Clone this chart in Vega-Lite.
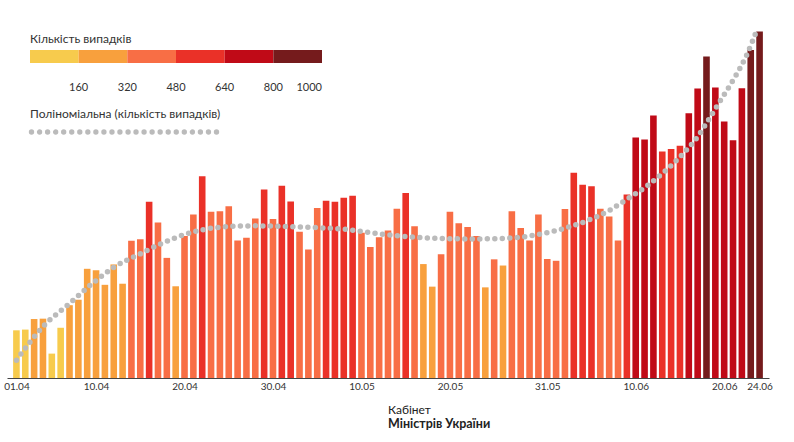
{
  "$schema": "https://vega.github.io/schema/vega-lite/v6.json",
  "autosize": {"type": "none"},
  "padding": {"left": 7, "top": 14, "right": 25, "bottom": 64},
  "width": 762,
  "height": 364,
  "background": "white",
  "config": {
    "view": {"stroke": null},
    "font": "Lato",
    "legend": {"titleFont": "Lato", "labelFont": "Lato", "titleFontWeight": "normal", "titleColor": "#333", "labelColor": "#333", "titleLimit": 400}
  },
  "title": {
    "text": "Кабінет",
    "subtitle": "Міністрів України",
    "orient": "bottom",
    "anchor": "middle",
    "align": "left",
    "offset": 14,
    "font": "Lato",
    "fontSize": 12,
    "fontWeight": "normal",
    "color": "#222",
    "subtitleFont": "Lato",
    "subtitleFontSize": 12.5,
    "subtitleFontWeight": "bold",
    "subtitleColor": "#222",
    "subtitlePadding": 1
  },
  "datasets": {
    "cases": [
      {"day": 1, "cases": 131}, {"day": 2, "cases": 133}, {"day": 3, "cases": 162}, {"day": 4, "cases": 163},
      {"day": 5, "cases": 67}, {"day": 6, "cases": 138}, {"day": 7, "cases": 200}, {"day": 8, "cases": 215},
      {"day": 9, "cases": 300}, {"day": 10, "cases": 296}, {"day": 11, "cases": 256}, {"day": 12, "cases": 312},
      {"day": 13, "cases": 259}, {"day": 14, "cases": 377}, {"day": 15, "cases": 381}, {"day": 16, "cases": 484},
      {"day": 17, "cases": 427}, {"day": 18, "cases": 330}, {"day": 19, "cases": 252}, {"day": 20, "cases": 390},
      {"day": 21, "cases": 449}, {"day": 22, "cases": 554}, {"day": 23, "cases": 457}, {"day": 24, "cases": 458},
      {"day": 25, "cases": 472}, {"day": 26, "cases": 378}, {"day": 27, "cases": 385}, {"day": 28, "cases": 438},
      {"day": 29, "cases": 518}, {"day": 30, "cases": 437}, {"day": 31, "cases": 528}, {"day": 32, "cases": 485},
      {"day": 33, "cases": 402}, {"day": 34, "cases": 353}, {"day": 35, "cases": 467}, {"day": 36, "cases": 487},
      {"day": 37, "cases": 484}, {"day": 38, "cases": 495}, {"day": 39, "cases": 501}, {"day": 40, "cases": 399},
      {"day": 41, "cases": 360}, {"day": 42, "cases": 387}, {"day": 43, "cases": 405}, {"day": 44, "cases": 465},
      {"day": 45, "cases": 508}, {"day": 46, "cases": 417}, {"day": 47, "cases": 313}, {"day": 48, "cases": 251},
      {"day": 49, "cases": 340}, {"day": 50, "cases": 457}, {"day": 51, "cases": 425}, {"day": 52, "cases": 415},
      {"day": 53, "cases": 390}, {"day": 54, "cases": 249}, {"day": 55, "cases": 326}, {"day": 56, "cases": 309},
      {"day": 57, "cases": 458}, {"day": 58, "cases": 412}, {"day": 59, "cases": 378}, {"day": 60, "cases": 449},
      {"day": 61, "cases": 327}, {"day": 62, "cases": 322}, {"day": 63, "cases": 464}, {"day": 64, "cases": 564},
      {"day": 65, "cases": 531}, {"day": 66, "cases": 527}, {"day": 67, "cases": 465}, {"day": 68, "cases": 444},
      {"day": 69, "cases": 378}, {"day": 70, "cases": 504}, {"day": 71, "cases": 661}, {"day": 72, "cases": 655},
      {"day": 73, "cases": 721}, {"day": 74, "cases": 622}, {"day": 75, "cases": 629}, {"day": 76, "cases": 638},
      {"day": 77, "cases": 727}, {"day": 78, "cases": 795}, {"day": 79, "cases": 883}, {"day": 80, "cases": 798},
      {"day": 81, "cases": 705}, {"day": 82, "cases": 653}, {"day": 83, "cases": 796}, {"day": 84, "cases": 901},
      {"day": 85, "cases": 952}
    ],
    "trend": [
      {"day": 1, "trend": 49}, {"day": 4, "trend": 141}, {"day": 7, "trend": 205}, {"day": 9.5, "trend": 258},
      {"day": 12, "trend": 304}, {"day": 15, "trend": 341}, {"day": 17, "trend": 365}, {"day": 20, "trend": 394},
      {"day": 22, "trend": 407}, {"day": 25, "trend": 416}, {"day": 28, "trend": 418}, {"day": 32, "trend": 416},
      {"day": 35, "trend": 413}, {"day": 38, "trend": 409}, {"day": 40, "trend": 403}, {"day": 42, "trend": 396},
      {"day": 44, "trend": 391}, {"day": 46.5, "trend": 386}, {"day": 49.5, "trend": 383}, {"day": 52.5, "trend": 382},
      {"day": 55.5, "trend": 383}, {"day": 58, "trend": 387}, {"day": 62, "trend": 405}, {"day": 65.5, "trend": 432},
      {"day": 68, "trend": 460}, {"day": 70, "trend": 491}, {"day": 72.3, "trend": 528}, {"day": 74.4, "trend": 570},
      {"day": 76.3, "trend": 615}, {"day": 78, "trend": 663}, {"day": 79.4, "trend": 716}, {"day": 80.8, "trend": 771},
      {"day": 82.2, "trend": 826}, {"day": 83.5, "trend": 885}, {"day": 84.8, "trend": 963}
    ]
  },
  "encoding": {
    "x": {
      "field": "day",
      "type": "quantitative",
      "scale": {"domain": [0.5, 85.5], "nice": false, "zero": false},
      "axis": {
        "title": null,
        "values": [1, 10, 20, 30, 40, 50, 61, 71, 81, 85],
        "labelExpr": "timeFormat(datetime(2020, 3, datum.value), '%d.%m')",
        "ticks": false,
        "grid": false,
        "domainColor": "#444",
        "domainWidth": 1,
        "labelFont": "Liberation Sans Narrow, Lato, sans-serif",
        "labelFontSize": 10,
        "labelColor": "#333",
        "labelPadding": 3,
        "labelFlush": false,
        "labelOverlap": false
      }
    }
  },
  "layer": [
    {
      "data": {"name": "cases"},
      "mark": {"type": "bar", "size": 6.6},
      "encoding": {
        "y": {
          "field": "cases",
          "type": "quantitative",
          "scale": {"domain": [0, 1000], "nice": false},
          "axis": null
        },
        "color": {
          "field": "cases",
          "type": "quantitative",
          "scale": {
            "type": "threshold",
            "domain": [160, 320, 480, 640, 800],
            "range": ["#F7CB4D", "#F8A03D", "#F86E45", "#EA3128", "#C00A17", "#751B1C"]
          },
          "legend": {
            "type": "gradient",
            "orient": "none",
            "legendX": 23,
            "legendY": 20,
            "direction": "horizontal",
            "title": "Кількість випадків",
            "titleFontSize": 12,
            "titlePadding": 4,
            "gradientLength": 292,
            "gradientThickness": 13,
            "gradientStrokeWidth": 0,
            "values": [0, 160, 320, 480, 640, 800, 960],
            "labelExpr": "datum.value == 0 ? '' : datum.value == 960 ? '1000' : datum.label + '\u2007\u2007\u2007\u2007'",
            "labelFontSize": 11,
            "labelOffset": 19,
            "labelOverlap": false
          }
        }
      }
    },
    {
      "data": {"name": "trend"},
      "mark": {"type": "line", "interpolate": "monotone", "strokeWidth": 5.5, "strokeDash": [0, 7.5], "strokeCap": "round"},
      "encoding": {
        "y": {"field": "trend", "type": "quantitative", "axis": null},
        "stroke": {
          "datum": "Поліноміальна (кількість випадків)",
          "type": "nominal",
          "scale": {"range": ["#BBBBBB"]},
          "legend": {
            "orient": "none",
            "legendX": 23,
            "legendY": 95,
            "title": "Поліноміальна (кількість випадків)",
            "titleFontSize": 12,
            "titlePadding": 4,
            "labelExpr": "''",
            "symbolType": "M-1.016,-0.94a0.016,0.016 0 1,0 0.032,0a0.016,0.016 0 1,0 -0.032,0M-0.929,-0.94a0.016,0.016 0 1,0 0.032,0a0.016,0.016 0 1,0 -0.032,0M-0.842,-0.94a0.016,0.016 0 1,0 0.032,0a0.016,0.016 0 1,0 -0.032,0M-0.755,-0.94a0.016,0.016 0 1,0 0.032,0a0.016,0.016 0 1,0 -0.032,0M-0.668,-0.94a0.016,0.016 0 1,0 0.032,0a0.016,0.016 0 1,0 -0.032,0M-0.581,-0.94a0.016,0.016 0 1,0 0.032,0a0.016,0.016 0 1,0 -0.032,0M-0.494,-0.94a0.016,0.016 0 1,0 0.032,0a0.016,0.016 0 1,0 -0.032,0M-0.407,-0.94a0.016,0.016 0 1,0 0.032,0a0.016,0.016 0 1,0 -0.032,0M-0.320,-0.94a0.016,0.016 0 1,0 0.032,0a0.016,0.016 0 1,0 -0.032,0M-0.233,-0.94a0.016,0.016 0 1,0 0.032,0a0.016,0.016 0 1,0 -0.032,0M-0.146,-0.94a0.016,0.016 0 1,0 0.032,0a0.016,0.016 0 1,0 -0.032,0M-0.060,-0.94a0.016,0.016 0 1,0 0.032,0a0.016,0.016 0 1,0 -0.032,0M0.028,-0.94a0.016,0.016 0 1,0 0.032,0a0.016,0.016 0 1,0 -0.032,0M0.114,-0.94a0.016,0.016 0 1,0 0.032,0a0.016,0.016 0 1,0 -0.032,0M0.201,-0.94a0.016,0.016 0 1,0 0.032,0a0.016,0.016 0 1,0 -0.032,0M0.288,-0.94a0.016,0.016 0 1,0 0.032,0a0.016,0.016 0 1,0 -0.032,0M0.375,-0.94a0.016,0.016 0 1,0 0.032,0a0.016,0.016 0 1,0 -0.032,0M0.462,-0.94a0.016,0.016 0 1,0 0.032,0a0.016,0.016 0 1,0 -0.032,0M0.549,-0.94a0.016,0.016 0 1,0 0.032,0a0.016,0.016 0 1,0 -0.032,0M0.636,-0.94a0.016,0.016 0 1,0 0.032,0a0.016,0.016 0 1,0 -0.032,0M0.723,-0.94a0.016,0.016 0 1,0 0.032,0a0.016,0.016 0 1,0 -0.032,0M0.810,-0.94a0.016,0.016 0 1,0 0.032,0a0.016,0.016 0 1,0 -0.032,0M0.897,-0.94a0.016,0.016 0 1,0 0.032,0a0.016,0.016 0 1,0 -0.032,0M0.984,-0.94a0.016,0.016 0 1,0 0.032,0a0.016,0.016 0 1,0 -0.032,0",
            "symbolSize": 34225,
            "symbolStrokeWidth": 2.4,
            "symbolStrokeColor": "#BBBBBB",
            "symbolFillColor": "#BBBBBB"
          }
        }
      }
    }
  ]
}
